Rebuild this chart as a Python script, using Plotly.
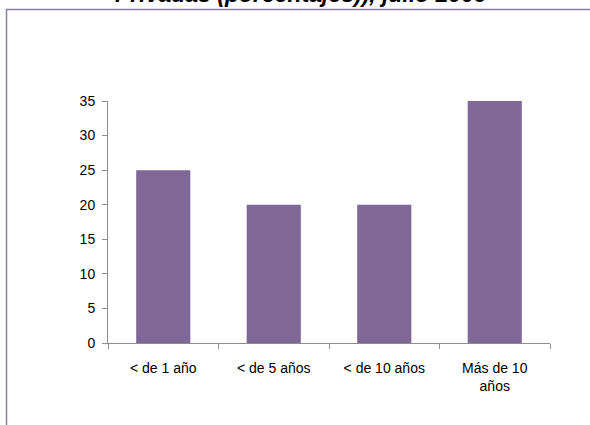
import plotly.graph_objects as go

# Data
categories = ["< de 1 año", "< de 5 años", "< de 10 años", "Más de 10<br>años"]
values = [25, 20, 20, 35]
y_ticks = [0, 5, 10, 15, 20, 25, 30, 35]
title_text = "Privadas (porcentajes)), julio 2009"

W, H = 590, 425
ML, MR, MT, MB = 108, 40, 101, 82
PW = W - ML - MR
PH = H - MT - MB


def px_x(x):
    return (x - ML) / PW


def px_y(y):
    return (H - MB - y) / PH


fig = go.Figure(
    go.Bar(
        x=categories,
        y=values,
        marker=dict(color="#7F6898", line=dict(width=0)),
        hoverinfo="skip",
    )
)

axis_grey = "#8E8E8E"
tick_font = dict(family="Liberation Sans, Arial, sans-serif", size=14, color="#000000")

fig.update_layout(
    width=W,
    height=H,
    margin=dict(l=ML, r=MR, t=MT, b=MB, pad=0),
    paper_bgcolor="white",
    plot_bgcolor="white",
    bargap=0.51,
    showlegend=False,
    xaxis=dict(
        showline=True,
        linecolor=axis_grey,
        linewidth=1,
        ticks="outside",
        tickson="boundaries",
        ticklen=5,
        tickcolor=axis_grey,
        tickfont=tick_font,
        ticklabelstandoff=12,
        showgrid=False,
        zeroline=False,
        fixedrange=True,
    ),
    yaxis=dict(
        range=[0, 35],
        tickvals=y_ticks,
        showline=True,
        linecolor=axis_grey,
        linewidth=1,
        ticks="outside",
        tickcolor=axis_grey,
        ticklen=5,
        tickfont=tick_font,
        ticklabelstandoff=4,
        showgrid=False,
        zeroline=False,
        fixedrange=True,
    ),
    shapes=[
        dict(
            type="rect",
            xref="paper",
            yref="paper",
            x0=px_x(6.5),
            x1=px_x(640),
            y0=px_y(470),
            y1=px_y(9.5),
            line=dict(color="#8A7DA0", width=1.5),
            fillcolor="rgba(0,0,0,0)",
            layer="below",
        )
    ],
    annotations=[
        dict(
            text="<b><i>" + title_text + "</i></b>",
            xref="paper",
            yref="paper",
            x=px_x(301),
            y=px_y(9),
            xanchor="center",
            yanchor="bottom",
            showarrow=False,
            font=dict(family="Liberation Sans, Arial, sans-serif", size=23, color="#000000"),
        )
    ],
)

fig.write_html("out.html")
